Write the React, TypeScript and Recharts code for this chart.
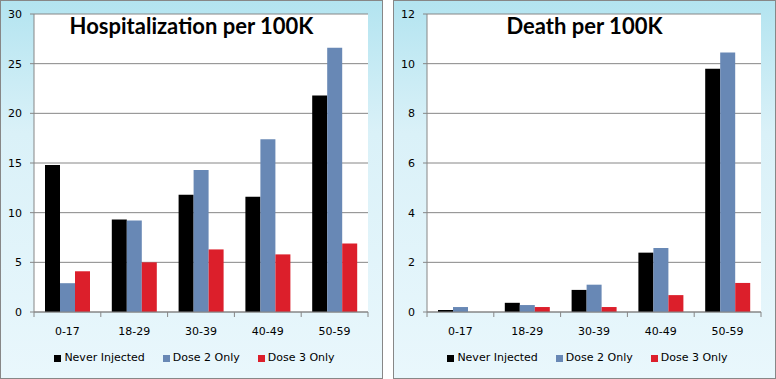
import { BarChart, Bar, XAxis, YAxis, CartesianGrid } from 'recharts';

const ageGroups = ['0-17', '18-29', '30-39', '40-49', '50-59'];

const hospNever = [14.8, 9.3, 11.8, 11.6, 21.8];
const hospDose2 = [2.9, 9.2, 14.3, 17.4, 26.6];
const hospDose3 = [4.1, 5.0, 6.3, 5.8, 6.9];
const hospTicks = [0, 5, 10, 15, 20, 25, 30];

const deathNever = [0.08, 0.37, 0.89, 2.39, 9.8];
const deathDose2 = [0.2, 0.28, 1.1, 2.58, 10.45];
const deathDose3 = [0, 0.2, 0.2, 0.68, 1.17];
const deathTicks = [0, 2, 4, 6, 8, 10, 12];

const seriesNames = ['Never Injected', 'Dose 2 Only', 'Dose 3 Only'];
const seriesColors = ['#000000', '#6888b5', '#dc1f2b'];

const PANEL_W = 383;
const PANEL_H = 379;
const PLOT_W = 334;
const FONT = '"DejaVu Sans", Verdana, sans-serif';

function buildRows(a: number[], b: number[], c: number[]) {
  return ageGroups.map((age, i) => ({ age, never: a[i], dose2: b[i], dose3: c[i] }));
}

// x-axis tick marks sit on category boundaries, like Excel
function CategoryTick(props: any) {
  const { x, y, payload, index } = props;
  const half = PLOT_W / ageGroups.length / 2;
  return (
    <g>
      <line x1={x - half} x2={x - half} y1={y} y2={y + 5} stroke="#868686" />
      {index === ageGroups.length - 1 && (
        <line x1={x + half} x2={x + half} y1={y} y2={y + 5} stroke="#868686" />
      )}
      <text x={x} y={y + 23} textAnchor="middle" fontSize={11} fontFamily={FONT} fill="#000">
        {payload.value}
      </text>
    </g>
  );
}

function LegendRow() {
  return (
    <div
      style={{
        position: 'absolute',
        left: 6,
        right: 0,
        top: 350,
        display: 'flex',
        justifyContent: 'center',
        gap: 18,
        fontFamily: FONT,
        fontSize: 11,
        lineHeight: '14px',
        color: '#000',
      }}
    >
      {seriesNames.map((name, i) => (
        <div key={name} style={{ display: 'flex', alignItems: 'center', gap: 3 }}>
          <span style={{ width: 7, height: 7, background: seriesColors[i], display: 'inline-block' }} />
          <span>{name}</span>
        </div>
      ))}
    </div>
  );
}

interface PanelProps {
  title: string;
  rows: { age: string; never: number; dose2: number; dose3: number }[];
  ticks: number[];
  left: number;
}

function Panel({ title, rows, ticks, left }: PanelProps) {
  return (
    <div
      style={{
        position: 'absolute',
        left,
        top: 0,
        width: PANEL_W,
        height: PANEL_H,
        boxSizing: 'border-box',
        border: '1px solid #878787',
        background: 'linear-gradient(to bottom, #b3e4f0 0%, #daf1f8 35%, #e9f7fc 100%)',
      }}
    >
      <BarChart
        width={PANEL_W - 2}
        height={PANEL_H - 2}
        data={rows}
        margin={{ top: 13, right: 14, bottom: 0, left: 0 }}
        barCategoryGap={11}
        barGap={0}
      >
        <CartesianGrid vertical={false} stroke="#868686" fill="#ffffff" />
        <XAxis
          dataKey="age"
          height={66}
          axisLine={{ stroke: '#868686' }}
          tickLine={false}
          tickSize={0}
          tickMargin={0}
          tick={<CategoryTick />}
          interval={0}
        />
        <YAxis
          width={33}
          domain={[ticks[0], ticks[ticks.length - 1]]}
          ticks={ticks}
          axisLine={{ stroke: '#868686' }}
          tickLine={{ stroke: '#868686' }}
          tickSize={4}
          tickMargin={8}
          tick={{ fontSize: 11, fontFamily: FONT, fill: '#000' }}
        />
        <Bar dataKey="never" name={seriesNames[0]} fill={seriesColors[0]} isAnimationActive={false} />
        <Bar dataKey="dose2" name={seriesNames[1]} fill={seriesColors[1]} isAnimationActive={false} />
        <Bar dataKey="dose3" name={seriesNames[2]} fill={seriesColors[2]} isAnimationActive={false} />
      </BarChart>
      <LegendRow />
      <div
        style={{
          position: 'absolute',
          left: 0,
          right: 0,
          top: 11,
          textAlign: 'center',
          fontFamily: 'Lato, "Open Sans", sans-serif',
          fontWeight: 'bold',
          fontSize: 22,
          color: '#000',
          pointerEvents: 'none',
        }}
      >
        {title}
      </div>
    </div>
  );
}

export default function App() {
  return (
    <div style={{ position: 'absolute', left: 0, top: 0, width: 776, height: 379, background: '#fff' }}>
      <Panel title="Hospitalization per 100K" rows={buildRows(hospNever, hospDose2, hospDose3)} ticks={hospTicks} left={0} />
      <Panel title="Death per 100K" rows={buildRows(deathNever, deathDose2, deathDose3)} ticks={deathTicks} left={393} />
    </div>
  );
}
